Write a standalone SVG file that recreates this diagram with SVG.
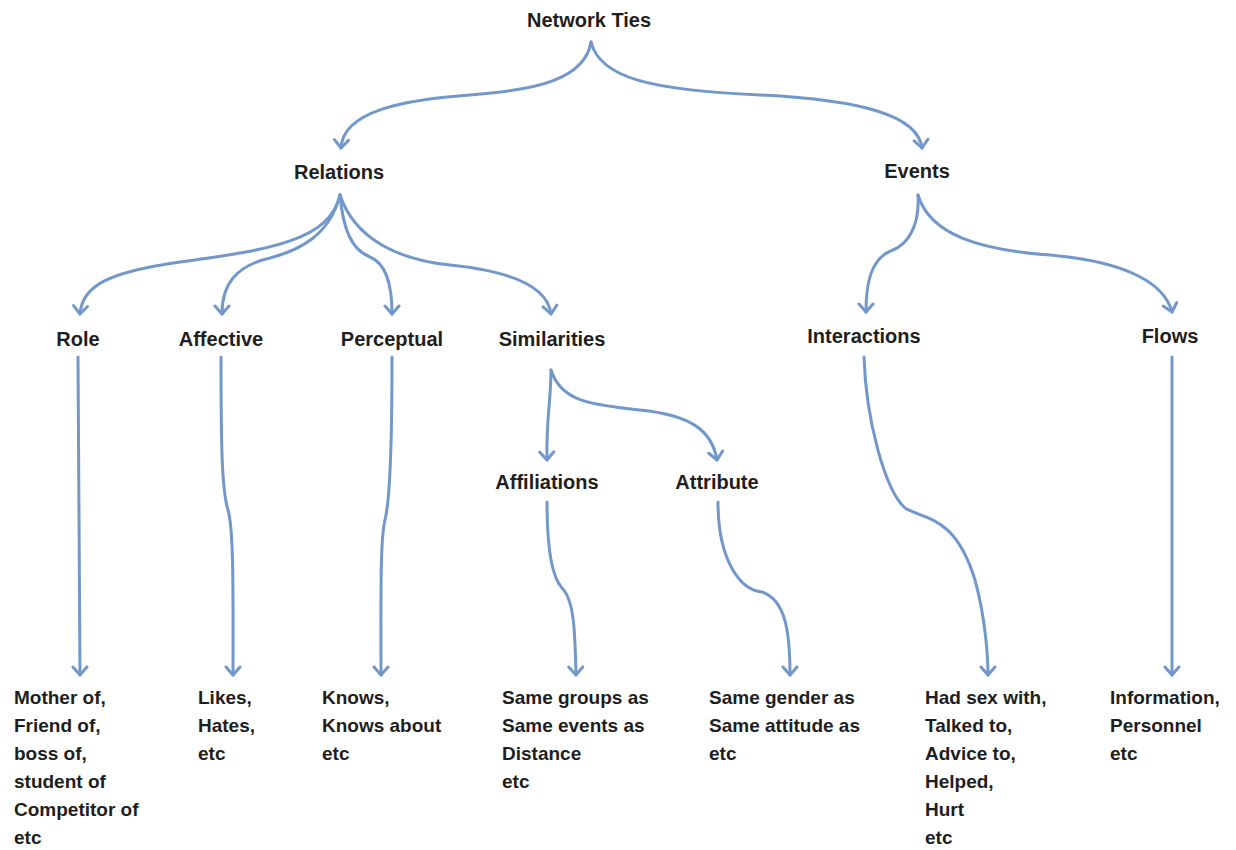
<svg xmlns="http://www.w3.org/2000/svg" width="1236" height="850" viewBox="0 0 1236 850">
<defs>
<style>
text{font-family:"Liberation Sans",Arial,sans-serif;font-weight:bold;font-size:20px;fill:#1e1e1e}
.h{text-anchor:middle}
.b{font-size:19px}
.c{fill:none;stroke:#7198c9;stroke-width:3;stroke-linecap:round;marker-end:url(#ar)}
</style>
<marker id="ar" markerUnits="userSpaceOnUse" markerWidth="20" markerHeight="20" viewBox="-10 -10 20 20" refX="0" refY="0" orient="auto">
<path d="M-8,-7 L0,0 L-8,7" fill="none" stroke="#7198c9" stroke-width="3" stroke-linecap="round" stroke-linejoin="round"/>
</marker>
</defs>
<rect width="1236" height="850" fill="#fff"/>
<g id="connectors">
<path class="c" d="M591,42 C585,78 540,90 470,95 C400,100 343,112 341,148"/>
<path class="c" d="M591,42 C600,78 650,90 760,95 C860,100 918,115 922,148"/>
<path class="c" d="M340,195 C330,240 270,250 180,262 C110,272 82,285 80,314"/>
<path class="c" d="M340,195 C330,235 300,250 270,258 C235,266 222,285 222,314"/>
<path class="c" d="M340,195 C343,230 352,250 370,257 C388,264 392,290 392,314"/>
<path class="c" d="M340,195 C355,240 400,260 450,265 C520,272 548,290 551,314"/>
<path class="c" d="M918,195 C920,230 905,245 893,250 C870,258 866,285 866,312"/>
<path class="c" d="M918,195 C930,235 980,250 1050,255 C1130,262 1165,285 1172,312"/>
<path class="c" d="M551,370 C551,400 546,420 547,460"/>
<path class="c" d="M551,370 C562,405 600,405 640,410 C690,415 712,430 717,460"/>
<path class="c" d="M78,357 L80,675"/>
<path class="c" d="M221,357 C221,450 222,490 228,510 C234,530 233,600 233,675"/>
<path class="c" d="M392,357 C392,450 390,500 385,520 C380,540 381,600 381,675"/>
<path class="c" d="M547,502 C547,540 550,575 562,588 C574,600 575,630 576,675"/>
<path class="c" d="M718,502 C718,560 740,590 762,592 C785,600 790,630 790,675"/>
<path class="c" d="M864,357 C866,420 885,490 905,508 C925,520 955,515 975,580 C986,620 988,660 988,675"/>
<path class="c" d="M1172,357 L1172,675"/>
</g>
<g id="n-network-ties"><text class="h" x="589" y="27">Network Ties</text></g>
<g id="n-relations"><text class="h" x="339" y="179">Relations</text></g>
<g id="n-events"><text class="h" x="917" y="178">Events</text></g>
<g id="n-role"><text class="h" x="78" y="346">Role</text></g>
<g id="n-affective"><text class="h" x="221" y="346">Affective</text></g>
<g id="n-perceptual"><text class="h" x="392" y="346">Perceptual</text></g>
<g id="n-similarities"><text class="h" x="552" y="346">Similarities</text></g>
<g id="n-interactions"><text class="h" x="864" y="343">Interactions</text></g>
<g id="n-flows"><text class="h" x="1170" y="343">Flows</text></g>
<g id="n-affiliations"><text class="h" x="547" y="489">Affiliations</text></g>
<g id="n-attribute"><text class="h" x="717" y="489">Attribute</text></g>
<g id="n-role-ex"><text class="b" x="14" y="704">Mother of,<tspan x="14" dy="28">Friend of,</tspan><tspan x="14" dy="28">boss of,</tspan><tspan x="14" dy="28">student of</tspan><tspan x="14" dy="28">Competitor of</tspan><tspan x="14" dy="28">etc</tspan></text></g>
<g id="n-affective-ex"><text class="b" x="198" y="704">Likes,<tspan x="198" dy="28">Hates,</tspan><tspan x="198" dy="28">etc</tspan></text></g>
<g id="n-perceptual-ex"><text class="b" x="322" y="704">Knows,<tspan x="322" dy="28">Knows about</tspan><tspan x="322" dy="28">etc</tspan></text></g>
<g id="n-affiliations-ex"><text class="b" x="502" y="704">Same groups as<tspan x="502" dy="28">Same events as</tspan><tspan x="502" dy="28">Distance</tspan><tspan x="502" dy="28">etc</tspan></text></g>
<g id="n-attribute-ex"><text class="b" x="709" y="704">Same gender as<tspan x="709" dy="28">Same attitude as</tspan><tspan x="709" dy="28">etc</tspan></text></g>
<g id="n-interactions-ex"><text class="b" x="925" y="704">Had sex with,<tspan x="925" dy="28">Talked to,</tspan><tspan x="925" dy="28">Advice to,</tspan><tspan x="925" dy="28">Helped,</tspan><tspan x="925" dy="28">Hurt</tspan><tspan x="925" dy="28">etc</tspan></text></g>
<g id="n-flows-ex"><text class="b" x="1110" y="704">Information,<tspan x="1110" dy="28">Personnel</tspan><tspan x="1110" dy="28">etc</tspan></text></g>
</svg>
